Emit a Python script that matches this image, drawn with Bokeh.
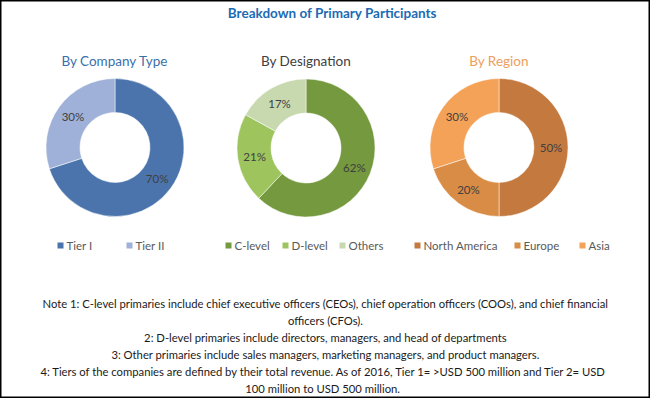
import math
from bokeh.plotting import figure
from bokeh.models import Range1d, ColumnDataSource
from bokeh.core.properties import value
from bokeh.embed import file_html
from bokeh.resources import INLINE

title = "Breakdown of Primary Participants"

company_title = "By Company Type"
company_labels = ["Tier I", "Tier II"]
company_values = [70, 30]

designation_title = "By Designation"
designation_labels = ["C-level", "D-level", "Others"]
designation_values = [62, 21, 17]

region_title = "By Region"
region_labels = ["North America", "Europe", "Asia"]
region_values = [50, 20, 30]

notes = [
    "Note 1: C-level primaries include chief executive officers (CEOs), chief operation officers (COOs), and chief financial",
    "officers (CFOs).",
    "2: D-level primaries include directors, managers, and head of departments",
    "3: Other primaries include sales managers, marketing managers, and product managers.",
    "4:  Tiers of the companies are defined by their total revenue. As of 2016, Tier 1= >USD 500 million and Tier 2= USD",
    "100 million to USD 500   million.",
]

W, H = 650, 398
p = figure(width=W, height=H, output_backend="svg", toolbar_location=None,
           x_range=Range1d(0, W), y_range=Range1d(H, 0), min_border=0)
p.axis.visible = False
p.grid.visible = False
p.outline_line_color = "black"
p.outline_line_width = 2
p.background_fill_color = "white"

FONT = "Lato"

p.text(x=[332], y=[12], text=[title], text_font=value("Lato"),
       text_font_style="bold", text_font_size="13.5px", text_color="#1B6BB4",
       text_align="center", text_baseline="middle")

charts = [
    dict(title=company_title, tcolor="#3A6FAA", labels=company_labels, values=company_values,
         colors=["#4A74AB", "#9FB1D8"], cx=114.5, cy=147, legend_x=[60, 129]),
    dict(title=designation_title, tcolor="#404040", labels=designation_labels, values=designation_values,
         colors=["#74993E", "#9EC45E", "#C8D9B0"], cx=305.5, cy=147.5, legend_x=[228, 285, 342]),
    dict(title=region_title, tcolor="#EC9E5C", labels=region_labels, values=region_values,
         colors=["#C4793F", "#D98C46", "#F4A257"], cx=498.5, cy=147, legend_x=[417, 517, 582]),
]

R_OUT, R_IN = 69, 35
for c in charts:
    total = sum(c["values"])
    cum = 0.0
    starts, ends, lx, ly, txt = [], [], [], [], []
    for v in c["values"]:
        f0 = cum / total
        f1 = (cum + v) / total
        starts.append(math.pi / 2 - f1 * 2 * math.pi)
        ends.append(math.pi / 2 - f0 * 2 * math.pi)
        mid = (f0 + f1) / 2 * 2 * math.pi
        rm = (R_OUT + R_IN) / 2
        lx.append(c["cx"] + rm * math.sin(mid))
        ly.append(c["cy"] - rm * math.cos(mid))
        txt.append(f"{v}%")
        cum += v
    n = len(c["values"])
    src = ColumnDataSource(dict(x=[c["cx"]] * n, y=[c["cy"]] * n, s=starts, e=ends, col=c["colors"]))
    p.annular_wedge(x="x", y="y", inner_radius=R_IN, outer_radius=R_OUT, start_angle="s", end_angle="e",
                    fill_color="col", line_color="white", line_width=0.5, source=src)
    p.text(x=lx, y=ly, text=txt, text_font=value(FONT), text_font_size="11.5px", text_color="#404040",
           text_align="center", text_baseline="middle")
    p.text(x=[c["cx"]], y=[60], text=[c["title"]], text_font=value(FONT), text_font_size="13.5px",
           text_color=c["tcolor"], text_align="center", text_baseline="middle")
    p.rect(x=c["legend_x"], y=[245] * n, width=6, height=6, fill_color=c["colors"], line_color=None)
    p.text(x=[xx + 6 for xx in c["legend_x"]], y=[245] * n, text=c["labels"], text_font=value(FONT),
           text_font_size="11.5px", text_color="#595959", text_align="left", text_baseline="middle")

p.text(x=[325] * len(notes), y=[303 + 17 * i for i in range(len(notes))], text=notes,
       text_font=value(FONT), text_font_size="11.25px", text_color="#1A1A1A",
       text_align="center", text_baseline="middle")

open("out.html", "w").write(file_html(p, INLINE))
